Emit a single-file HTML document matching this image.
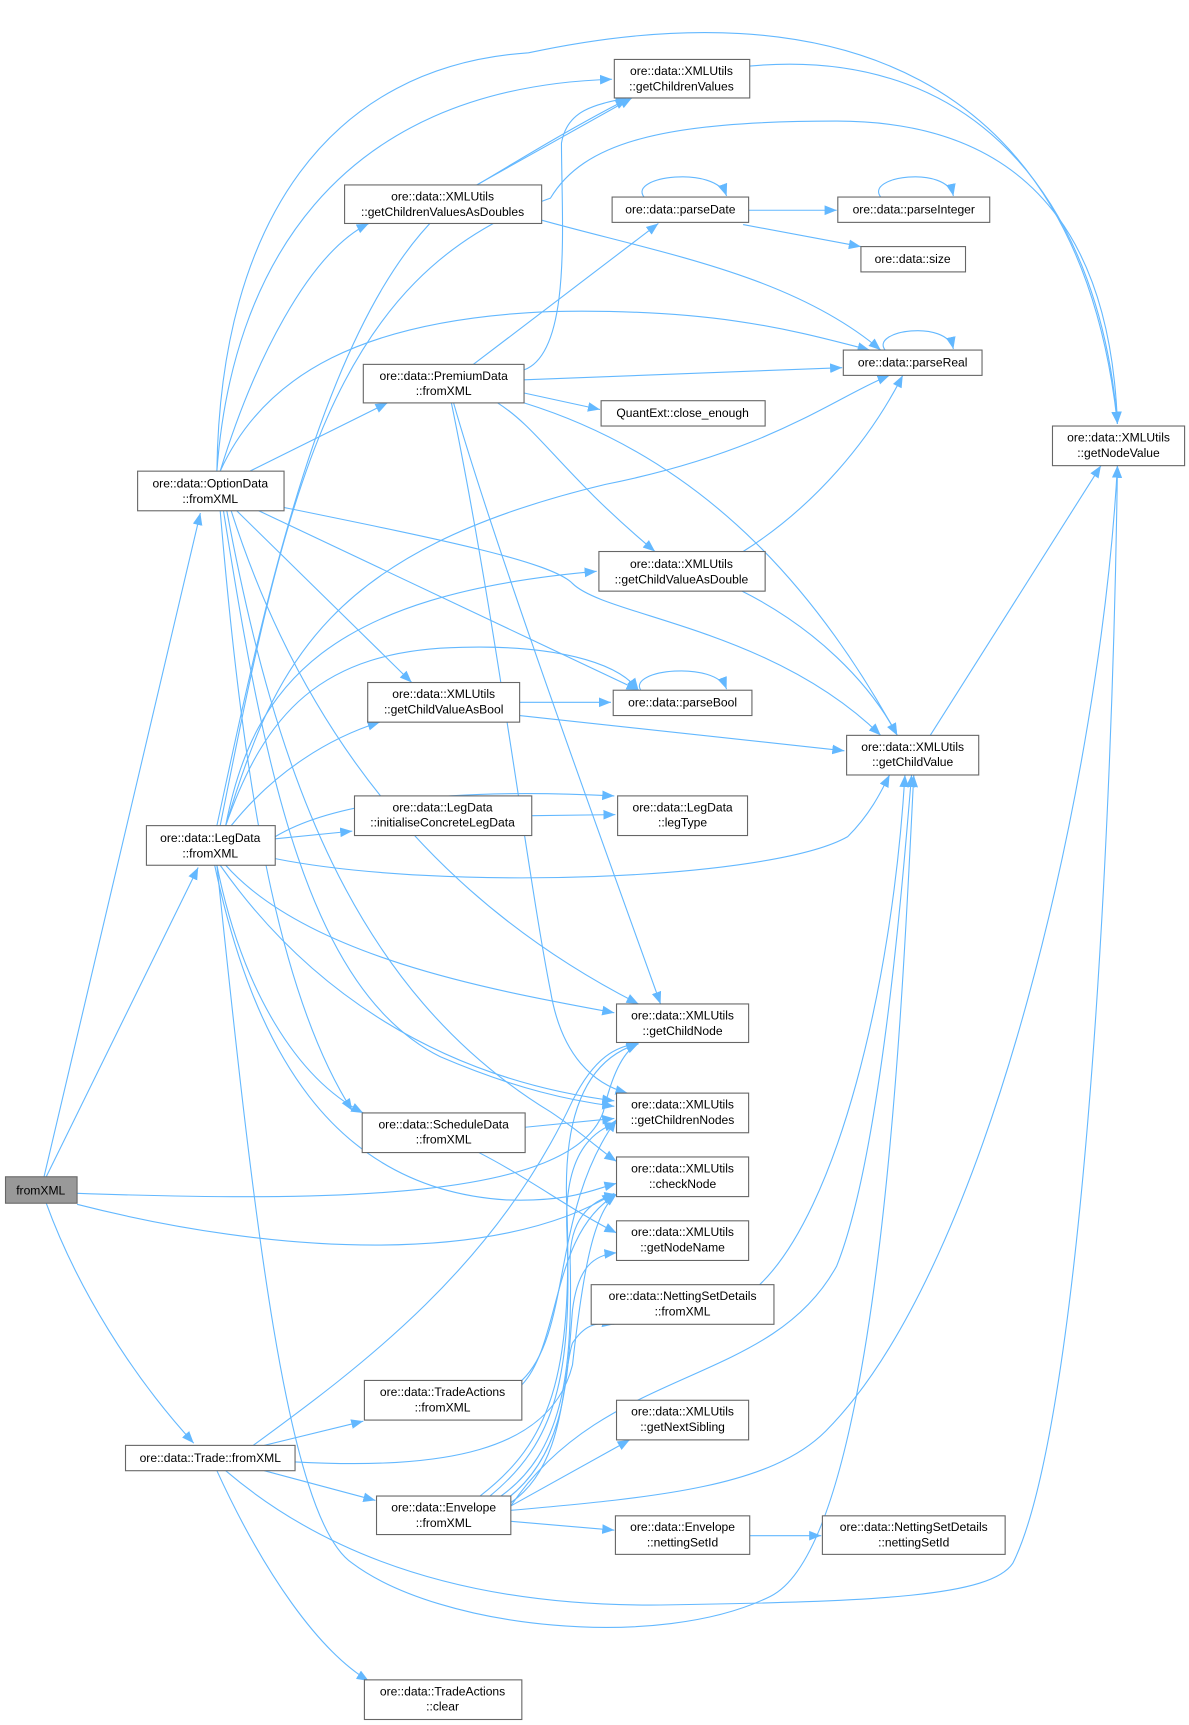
<!DOCTYPE html>
<html><head><meta charset="utf-8"><style>
html,body{margin:0;padding:0;background:#fff;}
svg{display:block;}
text{font-family:"Liberation Sans",sans-serif;font-size:11px;fill:#000;text-anchor:middle;}
.n rect{fill:#fff;stroke:#666;stroke-width:1;}
.e{fill:none;stroke:#63b8ff;stroke-width:1;marker-end:url(#a);}
</style></head><body>
<svg width="1189" height="1725" viewBox="0 0 1080 1567" preserveAspectRatio="none" xmlns="http://www.w3.org/2000/svg">
<defs><marker id="a" viewBox="0 0 10 10" refX="10" refY="5" markerWidth="11" markerHeight="11" markerUnits="userSpaceOnUse" orient="auto"><path d="M0,1 L10,5 L0,9 z" fill="#63b8ff"/></marker></defs>
<g>
<!-- fromXML -->
<path class="e" d="M40,1069 L182,466"/>
<path class="e" d="M42,1069 L180,788"/>
<path class="e" d="M42,1093 C70,1170 120,1250 176,1311"/>
<path class="e" d="M70,1084 C300,1092 520,1090 548,1010 C555,980 565,955 580,948"/>
<path class="e" d="M70,1094 C250,1140 450,1150 558,1084"/>
<!-- OptionData -->
<path class="e" d="M197,428 C210,250 300,80 556,72"/>
<path class="e" d="M197,428 C200,200 300,60 480,48 C750,-10 980,60 1015,385"/>
<path class="e" d="M200,428 C230,330 280,230 335,203"/>
<path class="e" d="M200,428 C240,340 330,290 500,283 C650,280 720,300 790,318"/>
<path class="e" d="M227,428 L352,366"/>
<path class="e" d="M215,464 L374,620"/>
<path class="e" d="M235,464 L580,627"/>
<path class="e" d="M258,461 C400,490 500,510 520,530 C550,560 700,570 800,668"/>
<path class="e" d="M210,464 C260,620 360,800 580,912"/>
<path class="e" d="M200,464 C220,700 250,900 320,1009"/>
<path class="e" d="M203,464 C240,700 280,900 400,960 C470,990 520,1000 558,1005"/>
<path class="e" d="M206,464 C250,700 320,900 500,1010 C530,1030 545,1045 560,1055"/>
<!-- LegData -->
<path class="e" d="M197,750 C240,550 300,250 430,170 C480,140 530,110 570,90"/>
<path class="e" d="M200,750 C260,450 300,250 500,180 C530,130 600,110 760,110 C960,110 1010,250 1015,385"/>
<path class="e" d="M205,750 C250,600 300,500 550,440 C700,410 760,360 808,341"/>
<path class="e" d="M205,750 C230,620 300,540 542,519"/>
<path class="e" d="M205,750 C240,650 290,590 420,588 C500,586 560,600 580,627"/>
<path class="e" d="M210,750 C250,700 300,670 345,656"/>
<path class="e" d="M250,760 C300,730 400,715 558,723"/>
<path class="e" d="M250,762 L320,755"/>
<path class="e" d="M250,780 C400,810 700,800 770,760 C790,740 800,720 808,704"/>
<path class="e" d="M205,786 C280,870 450,900 558,920"/>
<path class="e" d="M200,786 C280,900 400,980 558,1000"/>
<path class="e" d="M197,786 C220,900 270,980 330,1011"/>
<path class="e" d="M195,786 C230,950 300,1080 460,1090 C520,1092 540,1080 560,1075"/>
<path class="e" d="M197,786 C230,1100 260,1380 320,1420 C400,1480 600,1500 700,1450 C800,1400 820,900 830,704"/>
<!-- PremiumData -->
<path class="e" d="M476,336 C520,320 510,200 510,130 C515,100 540,95 570,89"/>
<path class="e" d="M430,331 L598,203"/>
<path class="e" d="M476,345 L765,334"/>
<path class="e" d="M476,357 L545,372"/>
<path class="e" d="M452,366 C490,390 510,430 595,501"/>
<path class="e" d="M476,366 C650,420 750,550 815,668"/>
<path class="e" d="M412,366 C450,500 560,800 600,912"/>
<path class="e" d="M410,366 C450,560 480,800 500,900 C510,960 540,985 570,993"/>
<!-- others -->
<path class="e" d="M433,168 L574,89"/>
<path class="e" d="M492,200 C600,230 720,250 800,318"/>
<path class="e" d="M681,60 C900,40 1000,200 1015,385"/>
<path class="e" d="M680,191 L760,191"/>
<path class="e" d="M675,204 L782,224"/>
<path class="e" d="M585,179 C570,160 650,150 660,178"/>
<path class="e" d="M880,179 C750,150 880,160 855,178" style="display:none"/>
<path class="e" d="M800,179 C785,160 860,150 866,178"/>
<path class="e" d="M804,318 C790,300 860,290 866,317"/>
<path class="e" d="M582,627 C570,608 650,600 660,626"/>
<path class="e" d="M675,501 C740,460 790,400 820,341"/>
<path class="e" d="M674,537 C740,570 790,620 815,668"/>
<path class="e" d="M472,638 L555,638"/>
<path class="e" d="M472,650 L767,682"/>
<path class="e" d="M845,668 L1000,423"/>
<path class="e" d="M483,741 L559,740"/>
<path class="e" d="M477,1024 L558,1016"/>
<path class="e" d="M435,1047 C480,1070 520,1100 560,1120"/>
<path class="e" d="M690,1167 C760,1100 810,900 822,704"/>
<path class="e" d="M474,1254 C520,1210 500,1100 560,1017"/>
<path class="e" d="M474,1258 C510,1220 500,1120 560,1085"/>
<!-- Trade -->
<path class="e" d="M240,1313 L330,1291"/>
<path class="e" d="M240,1336 L341,1363"/>
<path class="e" d="M197,1336 C240,1430 290,1500 335,1527"/>
<path class="e" d="M230,1313 C330,1240 450,1150 520,1000 C540,960 560,950 580,948"/>
<path class="e" d="M268,1328 C400,1335 500,1320 520,1240 C530,1150 540,1100 560,1085"/>
<path class="e" d="M205,1336 C280,1400 400,1460 600,1458 C800,1455 900,1450 920,1420 C980,1300 1010,800 1015,423"/>
<!-- Envelope -->
<path class="e" d="M464,1368 C550,1240 700,1260 760,1150 C800,1050 820,800 828,704"/>
<path class="e" d="M464,1372 C600,1360 700,1350 750,1300 C900,1150 1000,700 1015,423"/>
<path class="e" d="M464,1368 L572,1308"/>
<path class="e" d="M464,1382 L558,1390"/>
<path class="e" d="M436,1359 C500,1310 520,1250 515,1100 C510,1000 540,960 580,948"/>
<path class="e" d="M445,1359 C505,1310 520,1250 515,1120 C512,1060 530,1030 560,1020"/>
<path class="e" d="M455,1359 C510,1320 520,1250 518,1150 C516,1110 535,1090 560,1085"/>
<path class="e" d="M460,1362 C515,1320 515,1250 520,1190 C525,1150 540,1140 560,1138"/>
<path class="e" d="M464,1365 C515,1330 510,1250 520,1220 C530,1205 540,1200 558,1203"/>
<path class="e" d="M681,1395 L746,1395"/>
</g>
<g class="n">
<rect x="5" y="1069" width="65" height="24" style="fill:#999"/><text x="37" y="1085">fromXML</text>
<rect x="125" y="428" width="133" height="36"/><text x="191" y="443">ore::data::OptionData</text><text x="191" y="457">::fromXML</text>
<rect x="133" y="750" width="117" height="36"/><text x="191" y="765">ore::data::LegData</text><text x="191" y="779">::fromXML</text>
<rect x="114" y="1313" width="154" height="23"/><text x="191" y="1328">ore::data::Trade::fromXML</text>
<rect x="558" y="54" width="123" height="35"/><text x="619" y="68">ore::data::XMLUtils</text><text x="619" y="82">::getChildrenValues</text>
<rect x="313" y="168" width="179" height="35"/><text x="402" y="182">ore::data::XMLUtils</text><text x="402" y="196">::getChildrenValuesAsDoubles</text>
<rect x="556" y="179" width="124" height="23"/><text x="618" y="194">ore::data::parseDate</text>
<rect x="761" y="179" width="138" height="23"/><text x="830" y="194">ore::data::parseInteger</text>
<rect x="782" y="224" width="95" height="23"/><text x="829" y="239">ore::data::size</text>
<rect x="330" y="331" width="146" height="35"/><text x="403" y="345">ore::data::PremiumData</text><text x="403" y="359">::fromXML</text>
<rect x="766" y="318" width="126" height="23"/><text x="829" y="333">ore::data::parseReal</text>
<rect x="546" y="364" width="149" height="23"/><text x="620" y="379">QuantExt::close_enough</text>
<rect x="956" y="387" width="120" height="36"/><text x="1016" y="401">ore::data::XMLUtils</text><text x="1016" y="415">::getNodeValue</text>
<rect x="544" y="501" width="151" height="36"/><text x="619" y="516">ore::data::XMLUtils</text><text x="619" y="530">::getChildValueAsDouble</text>
<rect x="334" y="620" width="138" height="36"/><text x="403" y="634">ore::data::XMLUtils</text><text x="403" y="648">::getChildValueAsBool</text>
<rect x="557" y="627" width="126" height="23"/><text x="620" y="642">ore::data::parseBool</text>
<rect x="769" y="668" width="120" height="36"/><text x="829" y="682">ore::data::XMLUtils</text><text x="829" y="696">::getChildValue</text>
<rect x="322" y="723" width="161" height="36"/><text x="402" y="737">ore::data::LegData</text><text x="402" y="751">::initialiseConcreteLegData</text>
<rect x="561" y="723" width="118" height="36"/><text x="620" y="737">ore::data::LegData</text><text x="620" y="751">::legType</text>
<rect x="560" y="912" width="120" height="35"/><text x="620" y="926">ore::data::XMLUtils</text><text x="620" y="940">::getChildNode</text>
<rect x="560" y="993" width="120" height="36"/><text x="620" y="1007">ore::data::XMLUtils</text><text x="620" y="1021">::getChildrenNodes</text>
<rect x="329" y="1011" width="148" height="36"/><text x="403" y="1025">ore::data::ScheduleData</text><text x="403" y="1039">::fromXML</text>
<rect x="560" y="1051" width="120" height="36"/><text x="620" y="1065">ore::data::XMLUtils</text><text x="620" y="1079">::checkNode</text>
<rect x="560" y="1109" width="120" height="36"/><text x="620" y="1123">ore::data::XMLUtils</text><text x="620" y="1137">::getNodeName</text>
<rect x="537" y="1167" width="166" height="36"/><text x="620" y="1181">ore::data::NettingSetDetails</text><text x="620" y="1195">::fromXML</text>
<rect x="331" y="1254" width="143" height="36"/><text x="402" y="1268">ore::data::TradeActions</text><text x="402" y="1282">::fromXML</text>
<rect x="560" y="1272" width="120" height="36"/><text x="620" y="1286">ore::data::XMLUtils</text><text x="620" y="1300">::getNextSibling</text>
<rect x="342" y="1359" width="122" height="35"/><text x="403" y="1373">ore::data::Envelope</text><text x="403" y="1387">::fromXML</text>
<rect x="559" y="1377" width="122" height="35"/><text x="620" y="1391">ore::data::Envelope</text><text x="620" y="1405">::nettingSetId</text>
<rect x="747" y="1377" width="166" height="35"/><text x="830" y="1391">ore::data::NettingSetDetails</text><text x="830" y="1405">::nettingSetId</text>
<rect x="331" y="1526" width="143" height="36"/><text x="402" y="1540">ore::data::TradeActions</text><text x="402" y="1554">::clear</text>
</g>
</svg>
</body></html>
